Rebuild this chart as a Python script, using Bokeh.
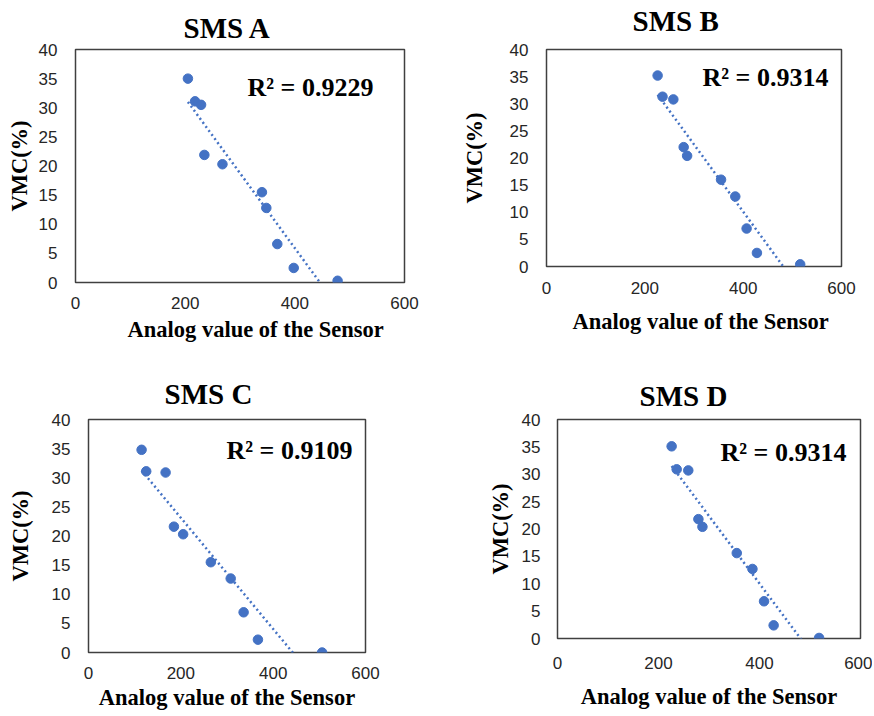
import numpy as np
from bokeh.plotting import figure
from bokeh.layouts import column, row
from bokeh.models import Range1d, FixedTicker, Label, Title
from bokeh.embed import file_html
from bokeh.resources import INLINE

# ---- data ----
titles = ["SMS A", "SMS B", "SMS C", "SMS D"]
r2_texts = ["R² = 0.9229", "R² = 0.9314", "R² = 0.9109", "R² = 0.9314"]
x_title = "Analog value of the Sensor"
y_title = "VMC(%)"

a_x = [205, 218, 229, 235, 268, 340, 348, 368, 398, 478]
a_y = [35.0, 31.1, 30.5, 21.9, 20.3, 15.5, 12.8, 6.6, 2.5, 0.3]

b_x = [226, 236, 258, 279, 286, 355, 384, 407, 428, 516]
b_y = [35.2, 31.3, 30.8, 22.0, 20.4, 16.0, 12.9, 7.0, 2.5, 0.4]

c_x = [115, 125, 167, 185, 205, 265, 308, 336, 367, 506]
c_y = [34.8, 31.1, 30.9, 21.6, 20.3, 15.5, 12.7, 6.9, 2.2, 0.0]

d_x = [226, 236, 259, 279, 287, 355, 386, 409, 428, 518]
d_y = [35.1, 30.9, 30.7, 21.8, 20.4, 15.6, 12.7, 6.8, 2.4, 0.1]

x_ticks = [0, 200, 400, 600]
y_ticks = [0, 5, 10, 15, 20, 25, 30, 35, 40]

BLUE = "#4472C4"
SERIF = "Liberation Serif"
SANS = "Liberation Sans"
XMAX, YMAX = 600, 40


def make_panel(title, xs, ys, r2, frame, borders, ytick_so, xtick_so, ylab_so,
               title_gap, title_off, r2_lc, xlab):
    """frame = (left, top, w, h) in page pixels.
    xlab = ("axis", standoff) or ("title", offset, standoff)."""
    fl, ft, fw, fh = frame
    mbl, mbr, mbt, mbb = borders
    p = figure(frame_width=fw, frame_height=fh, title=None,
               x_range=Range1d(0, XMAX), y_range=Range1d(0, YMAX),
               output_backend="svg", toolbar_location=None,
               min_border_left=mbl, min_border_right=mbr,
               min_border_top=mbt, min_border_bottom=mbb,
               background_fill_color="white", border_fill_color="white")
    p.outline_line_color = "#404040"
    p.outline_line_width = 1.5
    p.grid.visible = False

    for ax in (p.xaxis[0], p.yaxis[0]):
        ax.axis_line_color = None
        ax.major_tick_line_color = None
        ax.minor_tick_line_color = None
        ax.major_tick_out = 0
        ax.major_tick_in = 0
        ax.minor_tick_out = 0
        ax.major_label_text_font = SANS
        ax.major_label_text_font_size = "17px"
        ax.major_label_text_color = "#262626"
        ax.axis_label_text_font = SERIF
        ax.axis_label_text_font_style = "bold"
        ax.axis_label_text_font_size = "22.5px"
        ax.axis_label_text_color = "black"
    p.xaxis.ticker = FixedTicker(ticks=x_ticks)
    p.yaxis.ticker = FixedTicker(ticks=y_ticks)
    p.yaxis.major_label_standoff = ytick_so
    p.xaxis.major_label_standoff = xtick_so
    p.yaxis.axis_label = y_title
    p.yaxis.axis_label_standoff = ylab_so

    if xlab[0] == "axis":
        p.xaxis.axis_label = x_title
        p.xaxis.axis_label_standoff = xlab[1]
    else:
        p.add_layout(Title(text=x_title, align="left", offset=xlab[1],
                           vertical_align="top", standoff=xlab[2],
                           text_font=SERIF, text_font_style="bold",
                           text_font_size="22.5px", text_color="black"), "below")

    # spacer between frame and title, then the title itself
    p.add_layout(Title(text=" ", text_font_size="1px",
                       standoff=max(title_gap - 3.2, 0)), "above")
    p.add_layout(Title(text=title, align="left", offset=title_off,
                       vertical_align="bottom", standoff=0,
                       text_font=SERIF, text_font_style="bold",
                       text_font_size="29px", text_color="black"), "above")

    def dx(px):
        return (px - fl) / fw * XMAX

    def dy(py):
        return (ft + fh - py) / fh * YMAX

    # linear trendline fitted to the data
    slope, intercept = np.polyfit(xs, ys, 1)
    lx = np.array([min(xs), max(xs)], dtype=float)
    p.line(lx, slope * lx + intercept, line_color=BLUE, line_width=2.5,
           line_dash="2 3")
    p.scatter(xs, ys, size=9.5, fill_color=BLUE, line_color=BLUE)

    p.add_layout(Label(x=dx(r2_lc[0]), y=dy(r2_lc[1]), text=r2,
                       text_font=SERIF, text_font_style="bold",
                       text_font_size="26px", text_color="black",
                       text_align="left", text_baseline="middle"))
    return p


pA = make_panel(titles[0], a_x, a_y, r2_texts[0],
                frame=(75, 49, 329, 233), borders=(75, 54, 49, 72),
                ytick_so=18, xtick_so=14, ylab_so=4,
                title_gap=6.2, title_off=108, r2_lc=(247, 87),
                xlab=("title", 52, 10))
pB = make_panel(titles[1], b_x, b_y, r2_texts[1],
                frame=(546, 49, 295, 217), borders=(88, 20, 49, 88),
                ytick_so=18, xtick_so=15, ylab_so=20,
                title_gap=13.2, title_off=86, r2_lc=(702, 77),
                xlab=("title", 26, 24))
pC = make_panel(titles[2], c_x, c_y, r2_texts[2],
                frame=(88, 419, 277, 233), borders=(88, 119, 65, 62),
                ytick_so=18, xtick_so=14, ylab_so=16,
                title_gap=10.2, title_off=76, r2_lc=(226, 450),
                xlab=("axis", 3))
pD = make_panel(titles[3], d_x, d_y, r2_texts[3],
                frame=(554, 419, 303, 219), borders=(70, 12, 65, 75),
                ytick_so=17, xtick_so=18, ylab_so=6,
                title_gap=8.2, title_off=82, r2_lc=(717, 452),
                xlab=("axis", 12))

layout = column(row(pA, pB), row(pC, pD))

open("out.html", "w").write(file_html(layout, INLINE))
